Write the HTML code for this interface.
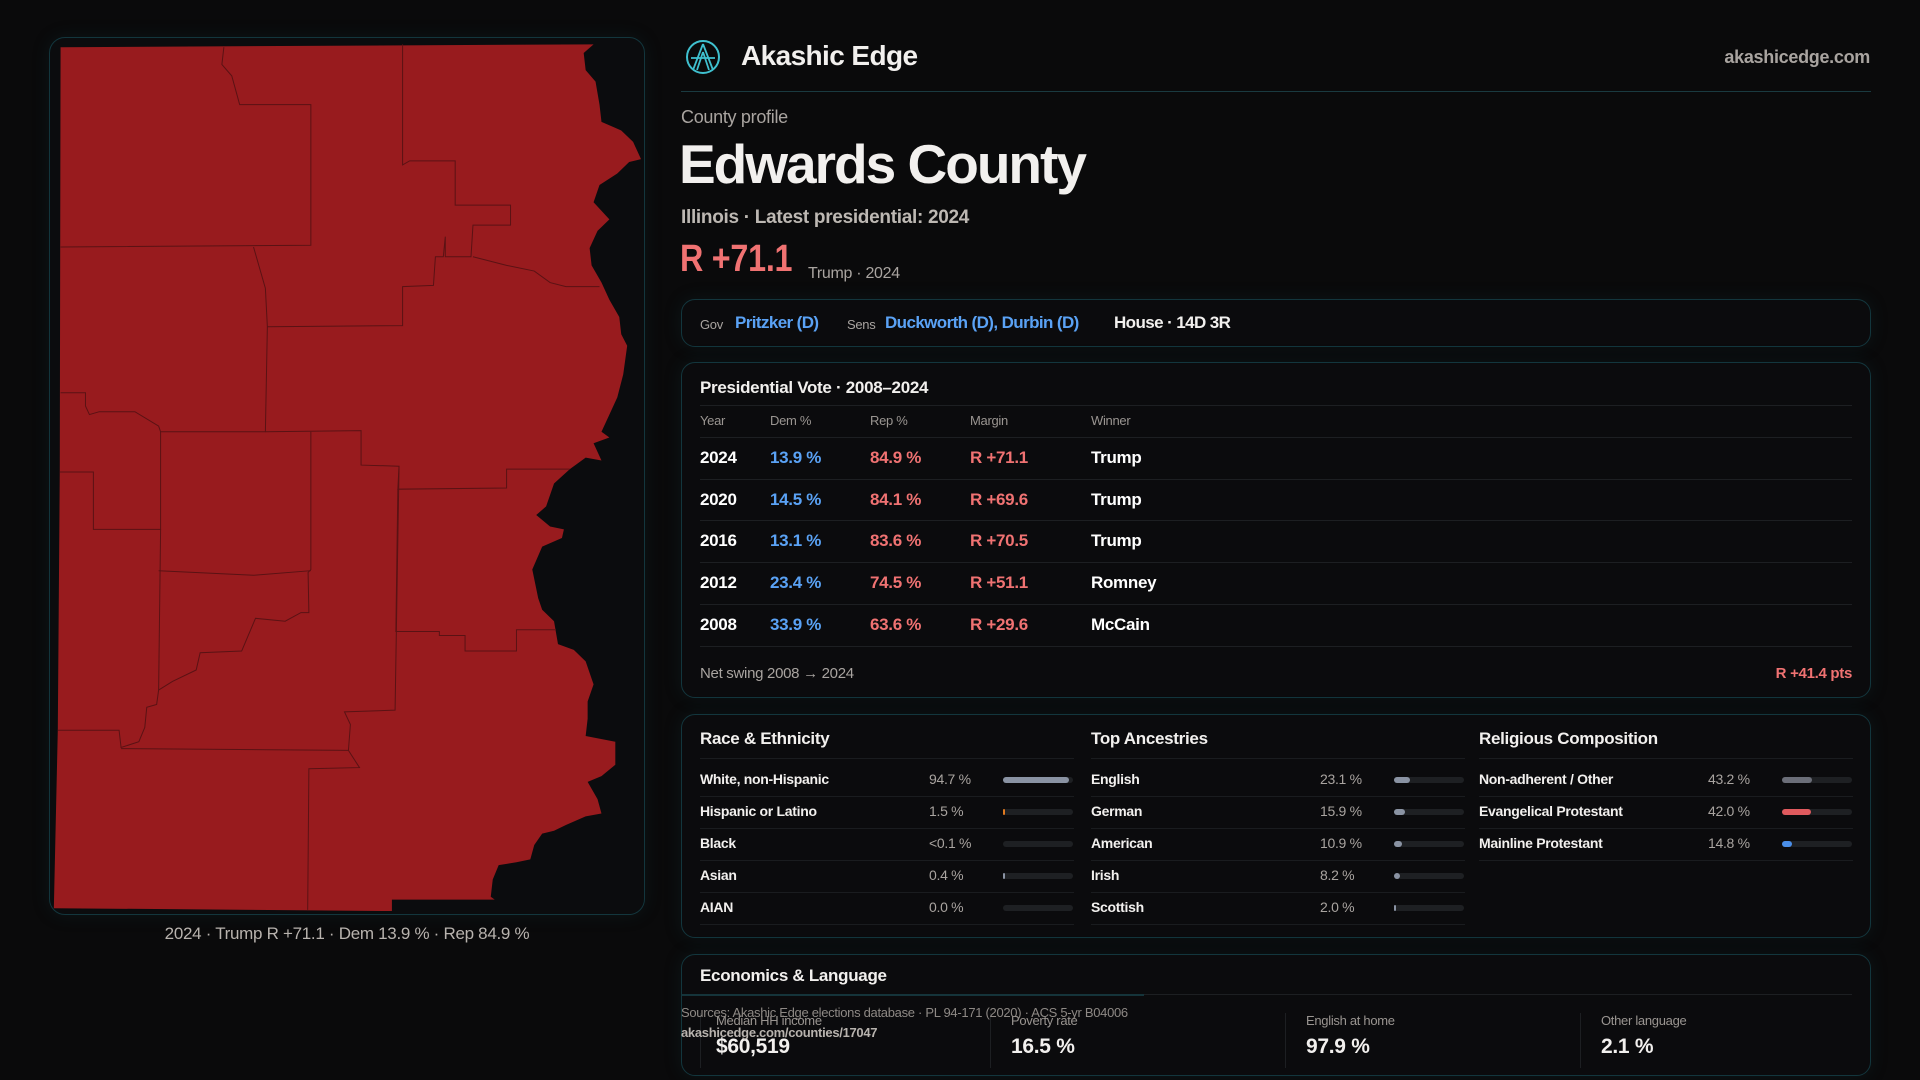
<!DOCTYPE html>
<html><head><meta charset="utf-8">
<style>
*{margin:0;padding:0;box-sizing:border-box}
body{width:1920px;height:1080px;background:#0a0a0b;font-family:"Liberation Sans",sans-serif;color:#f2f0ee;position:relative;overflow:hidden;letter-spacing:-0.3px}
.abs{position:absolute;white-space:nowrap}
.panel{position:absolute;border:1px solid #13363d;border-radius:14px;background:#0b0b0d;box-shadow:0 0 18px rgba(20,70,80,0.18)}
.muted{color:#a9a4a0}
.red{color:#f07272}
.blue{color:#5aa2f5}
.row{position:absolute;left:0;right:0;height:1px;background:#1d1f22}
.bar-track{position:absolute;height:6px;border-radius:3px;background:#1e2023}
.bar-fill{position:absolute;left:0;top:0;height:6px;border-radius:3px}
</style></head><body>

<div class="panel" style="left:49px;top:37px;width:596px;height:878px;border-radius:16px;background:#0b0c0e"></div>
<svg style="position:absolute;left:40px;top:30px" width="620" height="900" viewBox="0 0 1568 1568" preserveAspectRatio="none">
<polygon fill="#981b1e" points="52,30 1400,25 1375,40 1380,70 1405,90 1415,130 1420,160 1470,175 1500,195 1520,225 1490,230 1460,250 1415,270 1400,300 1440,330 1410,350 1390,380 1395,410 1420,440 1440,470 1465,500 1470,530 1485,550 1475,600 1460,640 1440,670 1420,700 1440,710 1400,720 1420,750 1380,745 1340,765 1300,790 1280,830 1255,845 1290,865 1325,870 1320,885 1270,900 1245,940 1260,990 1270,1010 1300,1030 1310,1070 1350,1080 1380,1100 1400,1140 1385,1170 1385,1200 1380,1230 1455,1240 1455,1280 1420,1300 1385,1310 1410,1340 1420,1365 1380,1370 1330,1385 1300,1395 1270,1400 1250,1420 1240,1445 1205,1450 1160,1455 1145,1480 1140,1510 1150,1515 890,1515 890,1535 35,1530 45,1220 50,770"/>
<g fill="none" stroke="#5a1214" stroke-width="1">
<polyline vector-effect="non-scaling-stroke" points="465,30 460,60 485,80 505,130 685,130 685,375 52,378"/>
<polyline vector-effect="non-scaling-stroke" points="917,25 917,235 935,228 1050,228 1050,305 1190,305 1190,340 1095,340 1090,395 1025,395 1025,360 1020,395 1000,395 995,445 917,447 917,515 575,517"/>
<polyline vector-effect="non-scaling-stroke" points="540,378 570,450 575,517 570,700 305,700 300,690 240,665 150,665 125,670 115,655 115,632 52,632"/>
<polyline vector-effect="non-scaling-stroke" points="1095,395 1180,410 1250,420 1290,440 1330,447 1415,447"/>
<polyline vector-effect="non-scaling-stroke" points="570,700 812,698 812,758 908,760 905,800 1180,798 1180,765 1340,765"/>
<polyline vector-effect="non-scaling-stroke" points="685,700 685,940 678,945 680,1015 660,1015 620,1030 545,1025 510,1082 405,1085 395,1115 335,1135 300,1150 295,1175 270,1180 265,1215 250,1240 205,1250 200,1220 45,1220"/>
<polyline vector-effect="non-scaling-stroke" points="305,700 305,870 135,870 135,770 50,770"/>
<polyline vector-effect="non-scaling-stroke" points="305,870 300,1150"/>
<polyline vector-effect="non-scaling-stroke" points="300,942 540,950 685,942"/>
<polyline vector-effect="non-scaling-stroke" points="908,760 898,1185 770,1188 785,1210 780,1255 808,1285 680,1287 677,1533"/>
<polyline vector-effect="non-scaling-stroke" points="205,1252 780,1255"/>
<polyline vector-effect="non-scaling-stroke" points="905,800 900,1048 1010,1048 1010,1055 1075,1055 1075,1082 1205,1082 1205,1045 1305,1045"/>
</g></svg>
<div class="abs muted" style="left:0;width:694px;text-align:center;top:924px;font-size:17px;color:#b8b3ae">2024 · Trump R +71.1 · Dem 13.9 % · Rep 84.9 %</div>

<!-- header -->
<svg style="position:absolute;left:685px;top:38px" width="36" height="38" viewBox="0 0 36 38">
<circle cx="18" cy="19" r="16" fill="none" stroke="#3fc0cf" stroke-width="2"/>
<path d="M18 6 L8 32 M18 6 L28 32 M18 14 L12 32 M18 14 L24 32 M6 20 L30 20" stroke="#3fc0cf" stroke-width="1.8" fill="none"/>
</svg>
<div class="abs" style="left:741px;top:40px;font-size:28px;font-weight:bold;letter-spacing:-0.6px">Akashic Edge</div>
<div class="abs muted" style="left:1700px;width:170px;text-align:right;top:47px;font-size:18px;font-weight:bold">akashicedge.com</div>
<div class="abs" style="left:681px;top:91px;width:1190px;height:1px;background:#1a3a40"></div>

<div class="abs muted" style="left:681px;top:107px;font-size:18px">County profile</div>
<div class="abs" style="left:679px;top:132px;font-size:55px;font-weight:bold;letter-spacing:-2px">Edwards County</div>
<div class="abs muted" style="left:681px;top:207px;font-size:19px;font-weight:bold;color:#bdb8b3">Illinois · Latest presidential: 2024</div>
<div class="abs red" style="left:680px;top:238px;font-size:38px;font-weight:bold;transform:scaleX(0.85);transform-origin:left top">R +71.1</div>
<div class="abs muted" style="left:808px;top:265px;font-size:16px">Trump · 2024</div>

<div class="panel" style="left:681px;top:299px;width:1190px;height:48px">
 <span class="abs muted" style="left:18px;top:17px;font-size:13px">Gov</span>
 <span class="abs blue" style="left:53px;top:13px;font-size:17px;font-weight:bold;letter-spacing:-0.6px">Pritzker (D)</span>
 <span class="abs muted" style="left:165px;top:17px;font-size:13px">Sens</span>
 <span class="abs blue" style="left:203px;top:13px;font-size:17px;font-weight:bold;letter-spacing:-0.6px">Duckworth (D), Durbin (D)</span>
 <span class="abs" style="left:432px;top:13px;font-size:17px;font-weight:bold;letter-spacing:-0.6px">House · 14D 3R</span>
</div>

<div class="panel" style="left:681px;top:362px;width:1190px;height:336px">
 <div class="abs" style="left:18px;top:15px;font-size:17px;font-weight:bold">Presidential Vote · 2008–2024</div>
 <div class="row" style="left:18px;right:18px;top:42px"></div>
 <div id="pres"></div>
 <div class="abs muted" style="left:18px;top:302px;font-size:15px">Net swing 2008 → 2024</div>
 <div class="abs red" style="right:18px;top:302px;font-size:15px;font-weight:bold">R +41.4 pts</div>
</div>

<div class="panel" style="left:681px;top:714px;width:1190px;height:224px">
 <div id="demo"></div>
</div>

<div class="panel" style="left:681px;top:954px;width:1190px;height:122px">
 <div class="abs" style="left:18px;top:11px;font-size:17px;font-weight:bold">Economics &amp; Language</div>
 <div class="row" style="left:18px;right:18px;top:39px"></div>
 <div class="abs" style="left:0;top:39px;width:462px;height:2px;background:#15343a"></div>
 <div id="econ"></div>
</div>
<div class="abs muted" style="left:681px;top:1005px;font-size:13px;color:#8e8985">Sources: Akashic Edge elections database · PL 94-171 (2020) · ACS 5-yr B04006</div>
<div class="abs muted" style="left:681px;top:1025px;font-size:13px;color:#b8b3ae;font-weight:bold">akashicedge.com/counties/17047</div>

<script>
const years=[2024,2020,2016,2012,2008];
const demPct=[13.9,14.5,13.1,23.4,33.9];
const repPct=[84.9,84.1,83.6,74.5,63.6];
const margins=[71.1,69.6,70.5,51.1,29.6];
const winners=["Trump","Trump","Trump","Romney","McCain"];

const raceLabels=["White, non-Hispanic","Hispanic or Latino","Black","Asian","AIAN"];
const raceValues=[94.7,1.5,0.05,0.4,0.0];
const raceText=["94.7 %","1.5 %","<0.1 %","0.4 %","0.0 %"];
const ancLabels=["English","German","American","Irish","Scottish"];
const ancValues=[23.1,15.9,10.9,8.2,2.0];
const relLabels=["Non-adherent / Other","Evangelical Protestant","Mainline Protestant"];
const relValues=[43.2,42.0,14.8];

const econLabels=["Median HH income","Poverty rate","English at home","Other language"];
const econValues=["$60,519","16.5 %","97.9 %","2.1 %"];

function el(parent,html,style){const d=document.createElement('div');d.className='abs';d.innerHTML=html;d.style.cssText=style;parent.appendChild(d);return d;}

const pres=document.getElementById('pres');
const colX=[18,88,188,288,409];
const heads=["Year","Dem %","Rep %","Margin","Winner"];
heads.forEach((h,i)=>{const d=el(pres,h,`left:${colX[i]}px;top:50px;font-size:13px;color:#9a9591`);

});
const rowY=i=>85+i*41.7;
years.forEach((y,i)=>{
 const t=rowY(i);
 const r=document.createElement('div');r.className='row';r.style.cssText=`left:18px;right:18px;top:${t-11}px`;pres.appendChild(r);
 const cells=[[y,'#fff'],[demPct[i].toFixed(1)+' %','#5aa2f5'],[repPct[i].toFixed(1)+' %','#f07272'],['R +'+margins[i].toFixed(1),'#f07272'],[winners[i],'#fff']];
 cells.forEach((c,j)=>{const d=el(pres,c[0],`left:${colX[j]}px;top:${t}px;font-size:17px;font-weight:bold;color:${c[1]}`);
 
 });
});
const lr=document.createElement('div');lr.className='row';lr.style.cssText=`left:18px;right:18px;top:${rowY(5)-11}px`;pres.appendChild(lr);

const demo=document.getElementById('demo');
function section(x,title,labels,values,texts,colors){
 const t=el(demo,title,`left:${x}px;top:14px;font-size:17px;font-weight:bold`);
 
 
 const r0=document.createElement('div');r0.className='row';r0.style.cssText=`left:${x}px;right:auto;width:374px;top:43px;background:#1a1c1f`;demo.appendChild(r0);
 labels.forEach((lab,i)=>{
  const y=56+i*32;
  const a=el(demo,lab,`left:${x}px;top:${y}px;font-size:14px;font-weight:bold`);
  
  
  const b=el(demo,texts[i],`left:${x+229}px;top:${y}px;font-size:14px;color:#a9a4a0`);
  
  
  const tr=document.createElement('div');tr.className='bar-track';tr.style.cssText=`left:${x+303}px;top:${y+6}px;width:70px`;
  
  
  const f=document.createElement('div');f.className='bar-fill';
  f.style.width=Math.max(values[i]/100*70, values[i]>0.2?2:0)+'px';f.style.background=colors[i];
  
  
  tr.appendChild(f);demo.appendChild(tr);
  const r=document.createElement('div');r.className='row';r.style.cssText=`left:${x}px;right:auto;width:374px;top:${y+25}px;background:#1a1c1f`;demo.appendChild(r);
 });
}
section(18,"Race &amp; Ethnicity",raceLabels,raceValues,raceText,["#8a93a3","#e07a20","#8a93a3","#8a93a3","#8a93a3"]);
section(409,"Top Ancestries",ancLabels,ancValues,ancValues.map(v=>v.toFixed(1)+' %'),["#8a93a3","#8a93a3","#8a93a3","#8a93a3","#8a93a3"]);
section(797,"Religious Composition",relLabels,relValues,relValues.map(v=>v.toFixed(1)+' %'),["#6b6e78","#e05a5e","#4a8ee8"]);

const econ=document.getElementById('econ');
econLabels.forEach((l,i)=>{
 const x=18+i*295;
 const dv=document.createElement('div');dv.className='abs';dv.style.cssText=`left:${i>0?x-5:x}px;top:58px;width:1px;height:55px;background:#1d1f22`;econ.appendChild(dv);
 const a=el(econ,l,`left:${x+16}px;top:58px;font-size:13px;color:#9a9591`);
 
 
 const b=el(econ,econValues[i],`left:${x+16}px;top:80px;font-size:21px;font-weight:bold`);
 
 
});
</script>
</body></html>
